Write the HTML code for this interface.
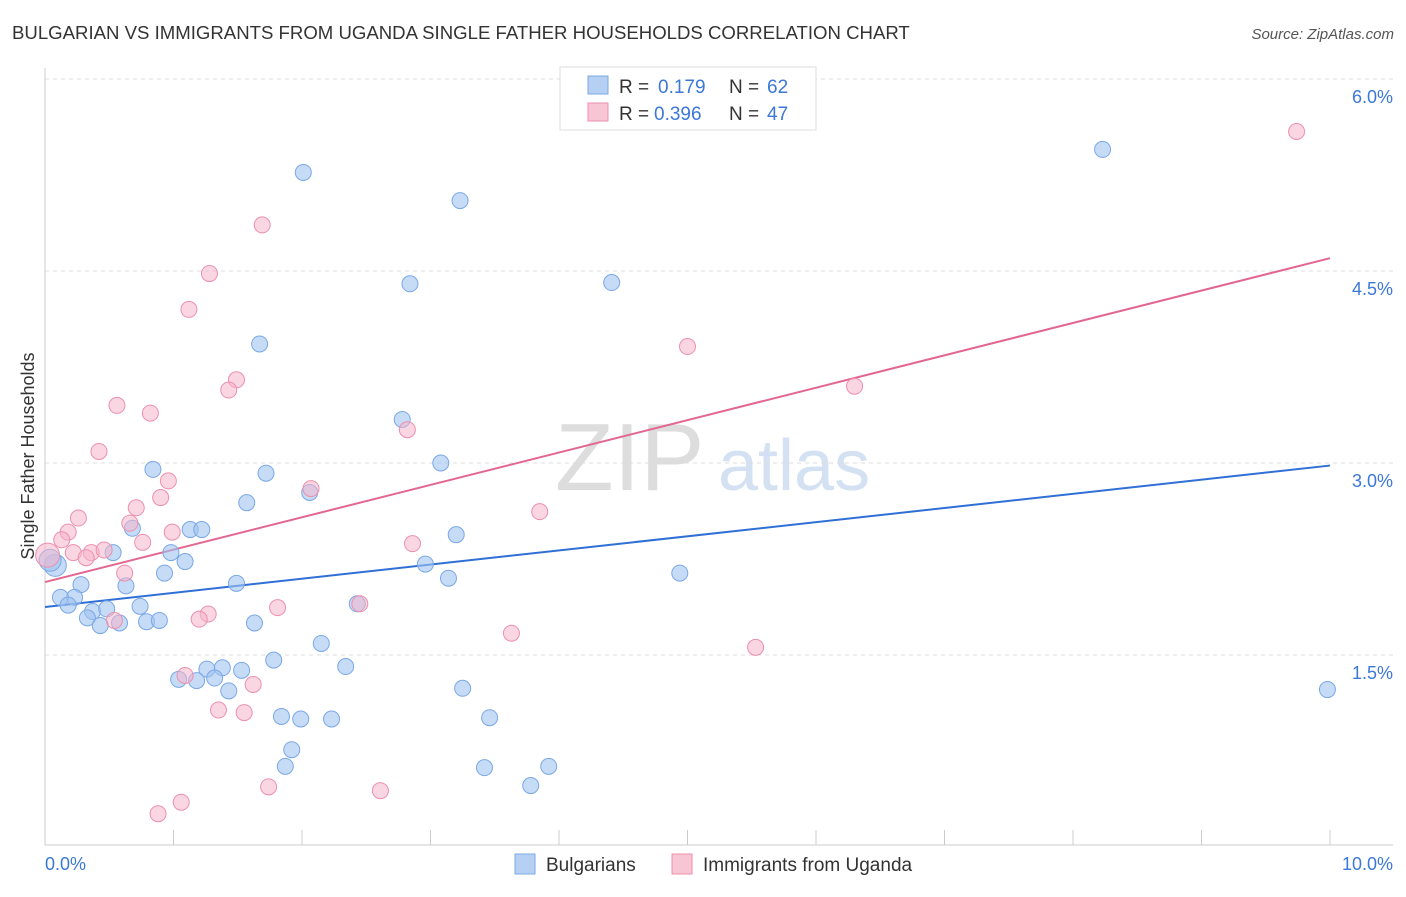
<!DOCTYPE html>
<html><head><meta charset="utf-8">
<style>
body{margin:0;background:#fff;font-family:"Liberation Sans",sans-serif;}
svg text{font-family:"Liberation Sans",sans-serif;}
</style></head>
<body>
<svg id="chart" width="1406" height="892">
<text x="12" y="39" font-size="18.6" fill="#333">BULGARIAN VS IMMIGRANTS FROM UGANDA SINGLE FATHER HOUSEHOLDS CORRELATION CHART</text>
<text x="1394" y="39" font-size="15" fill="#555" font-style="italic" text-anchor="end">Source: ZipAtlas.com</text>
<text x="555" y="490" font-size="96" fill="#ddd" font-family="Liberation Serif">ZIP</text>
<text x="718" y="490" font-size="72" fill="#d3e1f3">atlas</text>
<text transform="translate(34,456) rotate(-90)" font-size="18" fill="#333" text-anchor="middle">Single Father Households</text>
<g id="grid"></g><g id="axes"></g><g id="trends"></g><g id="points"></g>
<g>
<rect x="560" y="67" width="256" height="63" fill="#fff" stroke="#ddd"/>
<rect x="588" y="76" width="20" height="18" fill="#b5d0f2" stroke="#7aa8e6"/>
<text x="619" y="93" font-size="19" fill="#333">R =</text>
<text x="658" y="93" font-size="19" fill="#3b78d8">0.179</text>
<text x="729" y="93" font-size="19" fill="#333">N =</text>
<text x="767" y="93" font-size="19" fill="#3b78d8">62</text>
<rect x="588" y="103" width="20" height="18" fill="#f8c5d5" stroke="#ec90ad"/>
<text x="619" y="120" font-size="19" fill="#333">R =</text>
<text x="654" y="120" font-size="19" fill="#3b78d8">0.396</text>
<text x="729" y="120" font-size="19" fill="#333">N =</text>
<text x="767" y="120" font-size="19" fill="#3b78d8">47</text>
</g>
<g>
<rect x="515" y="854" width="20" height="20" fill="#b5d0f2" stroke="#7aa8e6"/>
<text x="546" y="871" font-size="19" fill="#333">Bulgarians</text>
<rect x="672" y="854" width="20" height="20" fill="#f8c5d5" stroke="#ec90ad"/>
<text x="703" y="871" font-size="19" fill="#333">Immigrants from Uganda</text>
</g>
</svg>
<script>
const yTicks=[1.5,3.0,4.5,6.0];
const yTickLabels=["1.5%","3.0%","4.5%","6.0%"];
const xTicks=[0,1,2,3,4,5,6,7,8,9,10];
const blueX=[2.01,3.23,8.23,2.84,4.41,1.67,2.78,3.08,0.84,1.72,2.06,1.57,0.68,1.13,1.22,3.20,0.53,0.98,1.09,2.96,0.93,3.14,4.94,1.49,0.63,0.28,0.23,0.12,0.18,0.37,0.48,0.74,0.33,0.43,0.58,0.79,0.89,1.63,2.43,2.15,1.78,2.34,1.26,1.38,1.53,1.04,1.18,1.32,1.43,3.25,9.98,1.84,1.99,2.23,3.46,1.92,1.87,3.42,3.92,3.78,0.08,0.04];
const blueY=[5.27,5.05,5.45,4.40,4.41,3.93,3.34,3.00,2.95,2.92,2.77,2.69,2.49,2.48,2.48,2.44,2.30,2.30,2.23,2.21,2.14,2.10,2.14,2.06,2.04,2.05,1.95,1.95,1.89,1.84,1.86,1.88,1.79,1.73,1.75,1.76,1.77,1.75,1.90,1.59,1.46,1.41,1.39,1.40,1.38,1.31,1.30,1.32,1.22,1.24,1.23,1.02,1.00,1.00,1.01,0.76,0.63,0.62,0.63,0.48,2.20,2.24];
const pinkX=[9.74,5.47,1.69,1.28,1.12,5.00,1.49,1.43,6.30,0.56,0.82,2.82,0.42,0.96,2.07,0.90,0.71,3.85,0.26,0.66,0.18,0.13,0.99,0.76,2.86,0.22,0.36,0.46,0.32,0.02,0.62,1.27,1.20,0.54,1.81,2.45,3.63,5.53,1.09,1.62,1.35,1.55,1.74,2.61,1.06,0.88];
const pinkY=[5.59,5.76,4.86,4.48,4.20,3.91,3.65,3.57,3.60,3.45,3.39,3.26,3.09,2.86,2.80,2.73,2.65,2.62,2.57,2.53,2.46,2.40,2.46,2.38,2.37,2.30,2.30,2.32,2.26,2.28,2.14,1.82,1.78,1.77,1.87,1.90,1.67,1.56,1.34,1.27,1.07,1.05,0.47,0.44,0.35,0.26];
const blueTrend=[1.875,2.98];
const pinkTrend=[2.07,4.60];
const NS="http://www.w3.org/2000/svg";
const xs=v=>45+v*128.5, ys=v=>847-v*128;
function mk(p,t,a){const e=document.createElementNS(NS,t);for(const k in a)e.setAttribute(k,a[k]);document.getElementById(p).appendChild(e);return e;}
yTicks.forEach((t,i)=>{
 const g=mk("grid","line",{x1:45,x2:1393,y1:ys(t),y2:ys(t),stroke:"#ddd","stroke-dasharray":"4,4"});
 
 
 const l=mk("grid","text",{x:1393,y:ys(t)+24,"font-size":18,fill:"#3b78d8","text-anchor":"end"});
 l.textContent=yTickLabels[i];
 
 
});
mk("axes","line",{x1:45,x2:45,y1:68,y2:845,stroke:"#ccc"});
mk("axes","line",{x1:45,x2:1393,y1:845,y2:845,stroke:"#ccc"});
xTicks.forEach(t=>{
 const k=mk("axes","line",{x1:xs(t),x2:xs(t),y1:830,y2:845,stroke:"#ccc"});
 
 
});
const x0=mk("axes","text",{x:45,y:870,"font-size":18,fill:"#3b78d8"});x0.textContent="0.0%";


const x1=mk("axes","text",{x:1393,y:870,"font-size":18,fill:"#3b78d8","text-anchor":"end"});x1.textContent="10.0%";


blueX.forEach((v,i)=>{
 const r=i>=60?11:8;
 const c=mk("points","circle",{cx:xs(v),cy:ys(blueY[i]),r:r,fill:"rgba(160,195,240,0.6)",stroke:"#7aa8e6","stroke-width":1});
 
 
});
pinkX.forEach((v,i)=>{
 const r=i==29?12:8;
 const c=mk("points","circle",{cx:xs(v),cy:ys(pinkY[i]),r:r,fill:"rgba(245,180,202,0.55)",stroke:"#ec90ad","stroke-width":1});
 
 
});
const bt=mk("trends","line",{x1:xs(0),y1:ys(blueTrend[0]),x2:xs(10),y2:ys(blueTrend[1]),stroke:"#2f6fd6","stroke-width":2});


const pt=mk("trends","line",{x1:xs(0),y1:ys(pinkTrend[0]),x2:xs(10),y2:ys(pinkTrend[1]),stroke:"#e3668f","stroke-width":2});


</script>
</body></html>
